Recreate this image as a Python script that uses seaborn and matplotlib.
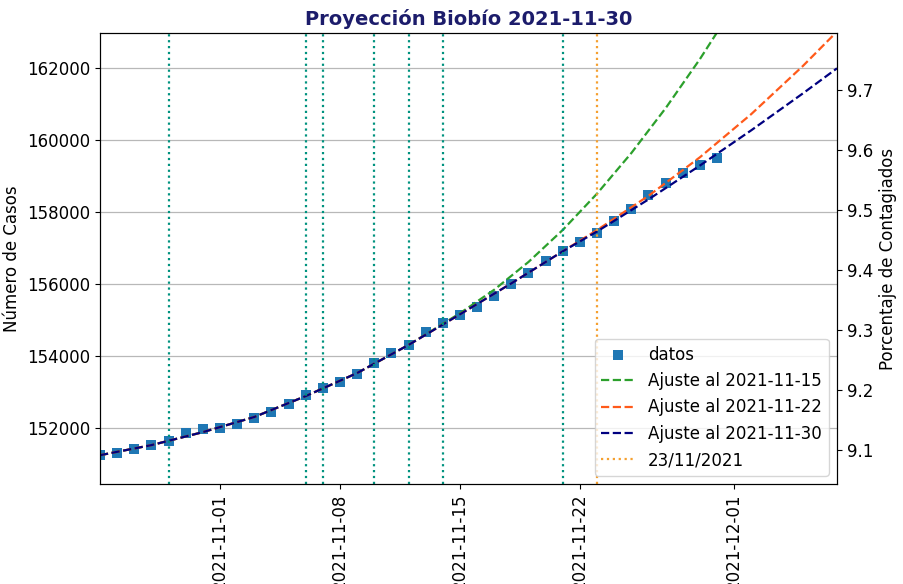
import numpy as np
import pandas as pd
import matplotlib
matplotlib.use("Agg")
import matplotlib.pyplot as plt
import matplotlib.dates as mdates
import seaborn as sns

plt.rcParams["font.size"] = 12

POBLACION = 1663696

# --- datos observados ---
fecha_inicio = "2021-10-25"
fecha_fin = "2021-11-30"
casos = [151242, 151300, 151400, 151519, 151639, 151861, 151964, 152000, 152094,
         152270, 152444, 152658, 152908, 153094, 153278, 153492, 153789, 154067,
         154297, 154650, 154900, 155131, 155361, 155667, 155992, 156289, 156631,
         156908, 157167, 157400, 157750, 158075, 158464, 158806, 159083, 159297,
         159483]

# --- ajustes ---
fechas_aj15 = ["2021-10-25", "2021-10-28", "2021-10-31", "2021-11-03", "2021-11-06",
               "2021-11-09", "2021-11-12", "2021-11-15", "2021-11-17", "2021-11-19",
               "2021-11-21", "2021-11-23", "2021-11-25", "2021-11-27", "2021-11-29",
               "2021-12-01"]
ajuste_15 = [151240, 151520, 151880, 152300, 152880, 153520, 154300, 155180, 155833,
             156604, 157493, 158501, 159627, 160872, 162235, 163716]

fechas_aj = ["2021-10-25", "2021-10-28", "2021-10-31", "2021-11-03", "2021-11-06",
             "2021-11-09", "2021-11-12", "2021-11-15", "2021-11-18", "2021-11-21",
             "2021-11-23", "2021-11-26", "2021-11-29", "2021-12-02", "2021-12-05",
             "2021-12-07"]
ajuste_22 = [151240, 151520, 151880, 152300, 152880, 153520, 154300, 155150, 156010,
             156900, 157490, 158440, 159510, 160710, 162040, 163000]
ajuste_30 = [151240, 151520, 151880, 152300, 152880, 153520, 154300, 155150, 156010,
             156900, 157450, 158340, 159280, 160260, 161280, 161980]

lineas_verticales = ["2021-10-29", "2021-11-06", "2021-11-07", "2021-11-10",
                     "2021-11-12", "2021-11-14", "2021-11-21"]
fecha_marcada = "2021-11-23"
etiqueta_marcada = "23/11/2021"

ylim_casos = (150440, 162960)
xlim = ("2021-10-25", "2021-12-07")

fechas = pd.date_range(fecha_inicio, fecha_fin, freq="D")

fig, ax = plt.subplots(figsize=(9.04, 5.84), dpi=100)
fig.subplots_adjust(left=0.1106, right=0.9259, top=0.9435, bottom=0.1712)

sns.scatterplot(x=fechas, y=casos, marker="s", s=42, color="#1f77b4",
                linewidth=0, ax=ax, label="datos", zorder=2)
sns.lineplot(x=pd.to_datetime(fechas_aj15), y=ajuste_15, ax=ax, color="#2ca02c",
             linestyle="--", linewidth=1.6, label="Ajuste al 2021-11-15")
sns.lineplot(x=pd.to_datetime(fechas_aj), y=ajuste_22, ax=ax, color="#ff5a1a",
             linestyle="--", linewidth=1.6, label="Ajuste al 2021-11-22")
sns.lineplot(x=pd.to_datetime(fechas_aj), y=ajuste_30, ax=ax, color="#000080",
             linestyle="--", linewidth=1.6, label="Ajuste al 2021-11-30")

for f in lineas_verticales:
    ax.axvline(pd.Timestamp(f), color="#00927f", linestyle=":", linewidth=1.6)
ax.axvline(pd.Timestamp(fecha_marcada), color="#f5a030", linestyle=":",
           linewidth=1.6, label=etiqueta_marcada)

ax.set_xlim(pd.Timestamp(xlim[0]), pd.Timestamp(xlim[1]))
ax.set_ylim(*ylim_casos)
ax.set_yticks([152000, 154000, 156000, 158000, 160000, 162000])
ax.xaxis.set_major_locator(mdates.DayLocator(bymonthday=[1, 8, 15, 22]))
ax.xaxis.set_major_formatter(mdates.DateFormatter("%Y-%m-%d"))
plt.setp(ax.get_xticklabels(), rotation=90)
ax.grid(axis="y", color="#b8b8b8", linewidth=0.9)
ax.set_axisbelow(True)
ax.set_xlabel("")
ax.set_ylabel("Número de Casos")
ax.set_title("Proyección Biobío 2021-11-30", fontsize=14, fontweight="bold",
             color="#1c1c6b")
ax.legend(loc="lower right", fontsize=12)

ax2 = ax.twinx()
ax2.set_ylim(ylim_casos[0] / POBLACION * 100, ylim_casos[1] / POBLACION * 100)
ax2.set_ylabel("Porcentaje de Contagiados")

fig.savefig("out.png", dpi=100)
